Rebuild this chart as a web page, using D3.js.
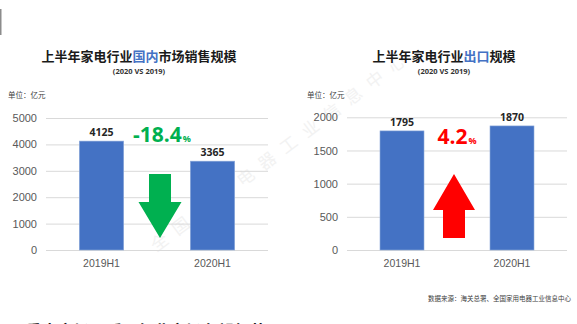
<!DOCTYPE html>
<html>
<head>
<meta charset="utf-8">
<script src="https://cdn.jsdelivr.net/npm/d3@7"></script>
<style>
  body { margin: 0; background: #fff; }
  svg { display: block; font-family: "Open Sans", "Noto Sans CJK SC", sans-serif; }
  .tick line { stroke: #d9d9d9; }
  .tick text { fill: #595959; }
</style>
</head>
<body>
<svg id="chart" width="577" height="324"></svg>
<script>
var categories = ['2019H1', '2020H1'];
var domesticValues = [4125, 3365];
var exportValues = [1795, 1870];
var domesticTicks = [0, 1000, 2000, 3000, 4000, 5000];
var exportTicks = [0, 500, 1000, 1500, 2000];
var changeLabels = ['-18.4', '4.2'];

var svg = d3.select('#chart');

// watermark, behind everything
svg.append('text')
  .attr('transform', 'translate(282,150) rotate(-37)')
  .attr('text-anchor', 'middle')
  .attr('dy', '0.35em')
  .attr('font-family', '"Noto Sans CJK SC"')
  .attr('font-size', 17)
  .attr('letter-spacing', 10)
  .attr('fill', '#f2f2f2')
  .text('全国家用电器工业信息中心');

// small mark at top left
svg.append('line')
  .attr('x1', 0.75).attr('x2', 0.75)
  .attr('y1', 9).attr('y2', 35)
  .attr('stroke', '#8c8c8c')
  .attr('stroke-width', 1.5);

function drawPanel (opts) {
  var g = svg.append('g');

  var x = d3.scaleBand()
    .domain(categories)
    .range(opts.xRange)
    .paddingInner(0.6)
    .paddingOuter(0.3);

  var y = d3.scaleLinear()
    .domain([0, d3.max(opts.ticks)])
    .range([250, opts.yTop]);

  // title
  var title = g.append('text')
    .attr('x', opts.titleX)
    .attr('y', 61)
    .attr('text-anchor', 'middle')
    .attr('font-family', '"Noto Sans CJK SC"')
    .attr('font-weight', 'bold')
    .attr('font-size', 13)
    .attr('fill', '#1a1a1a');
  opts.title.forEach(function (part) {
    title.append('tspan')
      .attr('fill', part[1] ? '#4472C4' : '#1a1a1a')
      .text(part[0]);
  });

  g.append('text')
    .attr('x', opts.titleX)
    .attr('y', 73.5)
    .attr('text-anchor', 'middle')
    .attr('font-weight', 'bold')
    .attr('font-size', 7.5)
    .attr('fill', '#333')
    .text('(2020 VS 2019)');

  g.append('text')
    .attr('x', opts.unitX)
    .attr('y', 98)
    .attr('font-family', '"Noto Sans CJK SC"')
    .attr('font-size', 7.5)
    .attr('fill', '#404040')
    .text('单位：亿元');

  // y axis with gridlines
  var yAxis = g.append('g')
    .attr('transform', 'translate(' + opts.xRange[0] + ',0)')
    .call(d3.axisLeft(y)
      .tickValues(opts.ticks)
      .tickSize(-(opts.xRange[1] - opts.xRange[0]))
      .tickPadding(9)
      .tickFormat(d3.format('d')));
  yAxis.select('.domain').remove();
  yAxis.selectAll('text').attr('font-size', 11);

  // x axis
  var xAxis = g.append('g')
    .attr('transform', 'translate(0,250)')
    .call(d3.axisBottom(x).tickSize(0).tickPadding(10));
  xAxis.select('.domain').remove();
  xAxis.selectAll('text').attr('font-size', 10.5);

  g.selectAll('rect.bar')
    .data(opts.values)
    .enter().append('rect')
      .attr('class', 'bar')
      .attr('x', (d, i) => x(categories[i]))
      .attr('width', x.bandwidth())
      .attr('y', d => y(d))
      .attr('height', d => y(0) - y(d))
      .attr('fill', '#4472C4')
      .attr('stroke', '#8eaadb')
      .attr('stroke-width', 0.6);

  g.selectAll('text.value')
    .data(opts.values)
    .enter().append('text')
      .attr('class', 'value')
      .attr('x', (d, i) => x(categories[i]) + x.bandwidth() / 2)
      .attr('y', d => y(d) - 5)
      .attr('text-anchor', 'middle')
      .attr('font-weight', 'bold')
      .attr('font-size', 10.5)
      .attr('fill', '#262626')
      .text(d => d);

  // percentage change
  var pct = g.append('text')
    .attr('x', opts.pctX)
    .attr('y', opts.pctY)
    .attr('font-weight', 'bold')
    .attr('font-size', 21)
    .attr('fill', opts.color);
  pct.append('tspan').text(opts.change);
  pct.append('tspan').attr('font-size', 9).attr('dx', 1).text('%');

  // arrow
  var cx = opts.arrowX;
  var pts = opts.up
    ? [[cx, 174], [cx + 21, 210], [cx + 11, 210], [cx + 11, 238], [cx - 11, 238], [cx - 11, 210], [cx - 21, 210]]
    : [[cx - 11, 174], [cx + 11, 174], [cx + 11, 202], [cx + 21.5, 202], [cx, 238], [cx - 21.5, 202], [cx - 11, 202]];
  g.append('path')
    .attr('d', d3.line()(pts) + 'Z')
    .attr('fill', opts.color);
}

drawPanel({
  xRange: [46, 268],
  yTop: 118,
  ticks: domesticTicks,
  values: domesticValues,
  title: [['上半年家电行业', false], ['国内', true], ['市场销售规模', false]],
  titleX: 139,
  unitX: 8,
  change: changeLabels[0],
  pctX: 133,
  pctY: 142,
  color: '#00B050',
  arrowX: 160,
  up: false
});

drawPanel({
  xRange: [347, 567],
  yTop: 117.3,
  ticks: exportTicks,
  values: exportValues,
  title: [['上半年家电行业', false], ['出口', true], ['规模', false]],
  titleX: 444,
  unitX: 307,
  change: changeLabels[1],
  pctX: 437.5,
  pctY: 143.5,
  color: '#FF0000',
  arrowX: 454,
  up: true
});

svg.append('text')
  .attr('x', 571)
  .attr('y', 301)
  .attr('text-anchor', 'end')
  .attr('font-family', '"Noto Sans CJK SC"')
  .attr('font-size', 6.5)
  .attr('fill', '#404040')
  .text('数据来源：海关总署、全国家用电器工业信息中心');

// bullet line that runs off the bottom edge, as in the reference
svg.append('text')
  .attr('x', 6)
  .attr('y', 337)
  .attr('font-family', '"Noto Sans CJK SC"')
  .attr('font-weight', 'bold')
  .attr('font-size', 16)
  .attr('fill', '#1a1a1a')
  .text('• 重点市场回暖，行业市场有望复苏');
</script>
</body>
</html>
